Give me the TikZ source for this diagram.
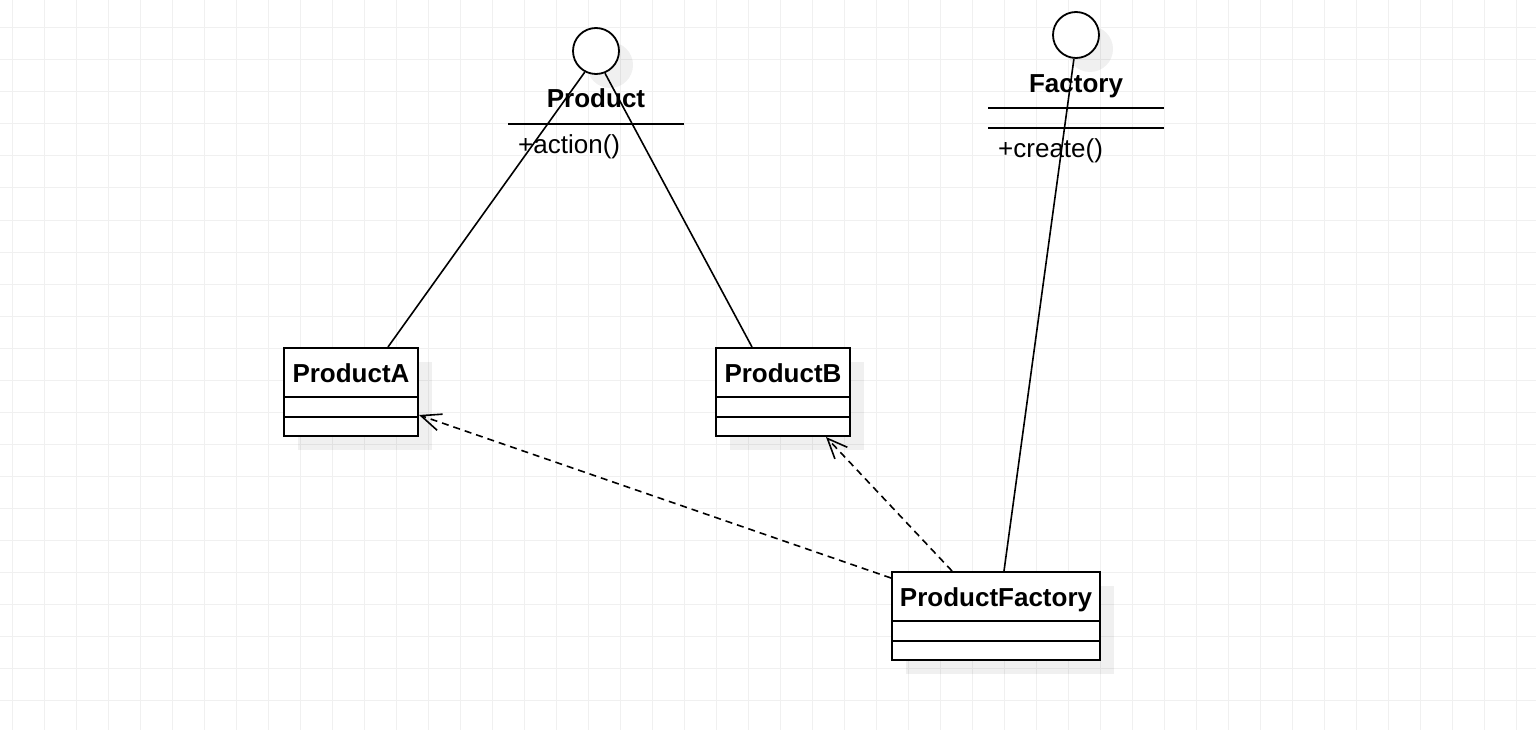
\documentclass[tikz,border=0pt]{standalone}
\usepackage{fontspec}
\setmainfont{Liberation Sans}
\usetikzlibrary{arrows.meta,shadows}
\begin{document}
\begin{tikzpicture}
	[x=1pt,y=-1pt,
	gridline/.style={black!6,line width=1pt},
	boxshadow/.style={drop shadow={shadow xshift=14pt,shadow yshift=-14pt,fill=black,opacity=0.06}},
	iface/.style={circle,draw,line width=1.8pt,fill=white,minimum size=46pt,inner sep=0pt,boxshadow},
	cls/.style={rectangle,draw,line width=2pt,fill=white,minimum height=88pt,inner sep=0pt,boxshadow},
	clsname/.style={font=\fontsize{26}{30}\selectfont\bfseries,inner sep=0pt,anchor=base},
	member/.style={font=\fontsize{26}{30}\selectfont,inner sep=0pt,anchor=base west},
	rule/.style={line width=2pt},
	link/.style={-,line width=1.6pt},
	dep/.style={-{Straight Barb[length=20pt,width=17pt]},line width=1.6pt,dash pattern=on 7pt off 5pt}]
	\useasboundingbox (0,0) rectangle (1536,730);
	% grid
	\foreach \x in {12,44,...,1516}
		\draw[gridline] (\x,0) -- (\x,730);
	\foreach \y in {28,60,...,700}
		\draw[gridline] (0,\y) -- (1536,\y);
	% interfaces
	\node at (596,51) (prod) [iface] {};
	\node at (596,108) (prodname) [clsname] {Product};
	\draw[rule] (508,124) -- (684,124);
	\node at (518,154) (prodop) [member] {+action()};
	\node at (1076,35) (fac) [iface] {};
	\node at (1076,93) (facname) [clsname] {Factory};
	\draw[rule] (988,108) -- (1164,108) (988,128) -- (1164,128);
	\node at (998,158) (facop) [member] {+create()};
	% classes
	\node at (351,392) (pa) [cls,minimum width=134pt] {};
	\node at (351,382) (paname) [clsname] {ProductA};
	\draw[rule] ([yshift=-50pt]pa.north west) -- ([yshift=-50pt]pa.north east)
		([yshift=-70pt]pa.north west) -- ([yshift=-70pt]pa.north east);
	\node at (783,392) (pb) [cls,minimum width=134pt] {};
	\node at (783,382) (pbname) [clsname] {ProductB};
	\draw[rule] ([yshift=-50pt]pb.north west) -- ([yshift=-50pt]pb.north east)
		([yshift=-70pt]pb.north west) -- ([yshift=-70pt]pb.north east);
	\node at (996,616) (pf) [cls,minimum width=208pt] {};
	\node at (996,606) (pfname) [clsname] {ProductFactory};
	\draw[rule] ([yshift=-50pt]pf.north west) -- ([yshift=-50pt]pf.north east)
		([yshift=-70pt]pf.north west) -- ([yshift=-70pt]pf.north east);
	% realization lines
	\draw[link] (prod.242) -- ([xshift=37pt]pa.north);
	\draw[link] (prod.292) -- ([xshift=-31pt]pb.north);
	\draw[link] (fac.265) -- ([xshift=8pt]pf.north);
	% dependencies
	\draw[dep] ([yshift=-7pt]pf.north west) -- ([yshift=-23pt]pa.east);
	\draw[dep] ([xshift=-44pt]pf.north) -- ([xshift=43pt]pb.south);
\end{tikzpicture}
\end{document}
